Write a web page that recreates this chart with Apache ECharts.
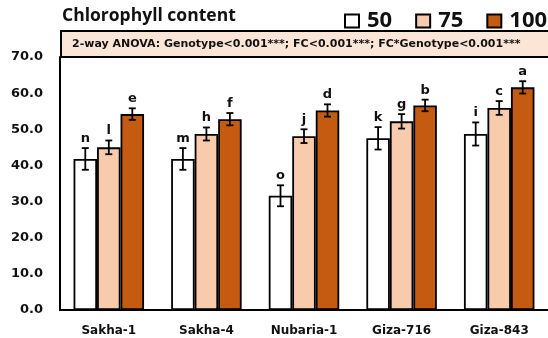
<!DOCTYPE html>
<html>
<head>
<meta charset="utf-8">
<style>
  html, body { margin: 0; padding: 0; background: #ffffff; }
  #chart { width: 548px; height: 338px; }
</style>
<script src="https://cdn.jsdelivr.net/npm/echarts@6/dist/echarts.min.js"></script>
</head>
<body>
<div id="chart"></div>
<script>
// Chlorophyll content of five genotypes under three FC levels (mean ± SE)
const genotypes = ['Sakha-1', 'Sakha-4', 'Nubaria-1', 'Giza-716', 'Giza-843'];
const levels = ['50', '75', '100'];

const mean50  = [41.8, 41.8, 31.6, 47.5, 48.7];
const mean75  = [45.0, 48.7, 48.1, 52.2, 55.9];
const mean100 = [54.2, 52.8, 55.2, 56.6, 61.6];

const err50  = [3.0, 3.0, 2.9, 3.1, 3.2];
const err75  = [1.9, 1.8, 1.9, 2.0, 1.9];
const err100 = [1.6, 1.7, 1.7, 1.6, 1.7];

const letters50  = ['n', 'm', 'o', 'k', 'i'];
const letters75  = ['l', 'h', 'j', 'g', 'c'];
const letters100 = ['e', 'f', 'd', 'b', 'a'];

const yTicks = { min: 0, max: 70, interval: 10 };

const titleText = 'Chlorophyll content';
const anovaText = '2-way ANOVA: Genotype<0.001***; FC<0.001***; FC*Genotype<0.001***';

// styling
const BAR_W = 23.5;
const fills = ['#ffffff', '#F8CBAD', '#C55A11'];
const INK = '#000000';
const TXT = '#111111';

const means = [mean50, mean75, mean100];
const errs = [err50, err75, err100];
const letterSets = [letters50, letters75, letters100];

const barSeries = levels.map((lv, i) => ({
  name: lv,
  type: 'bar',
  data: means[i],
  barWidth: BAR_W,
  barGap: '0%',
  itemStyle: { color: fills[i], borderColor: INK, borderWidth: 1.8 },
  z: 2
}));

const errSeries = levels.map((lv, i) => ({
  name: 'se-' + lv,
  type: 'custom',
  data: means[i].map((m, k) => [k, m, errs[i][k], letterSets[i][k]]),
  encode: { x: 0, y: 1 },
  z: 5,
  renderItem: (params, api) => {
    const k = api.value(0);
    const m = api.value(1);
    const e = api.value(2);
    const hi = api.coord([k, m + e]);
    const lo = api.coord([k, m - e]);
    const x = hi[0] + (i - 1) * BAR_W;
    const cap = 3.5;
    const line = { stroke: INK, lineWidth: 1.8 };
    return {
      type: 'group',
      children: [
        { type: 'line', shape: { x1: x, y1: hi[1], x2: x, y2: lo[1] }, style: line },
        { type: 'line', shape: { x1: x - cap, y1: hi[1], x2: x + cap, y2: hi[1] }, style: line },
        { type: 'line', shape: { x1: x - cap, y1: lo[1], x2: x + cap, y2: lo[1] }, style: line },
        {
          type: 'text',
          style: {
            x: x, y: hi[1] - 3,
            text: letterSets[i][k],
            align: 'center', verticalAlign: 'bottom',
            fill: TXT,
            font: 'bold 13px "DejaVu Sans"'
          }
        }
      ]
    };
  }
}));

const chart = echarts.init(document.getElementById('chart'), null, { renderer: 'canvas' });

chart.setOption({
  animation: false,
  backgroundColor: '#ffffff',
  grid: { left: 60, top: 57, width: 495, height: 253, containLabel: false },
  legend: {
    data: levels,
    orient: 'horizontal',
    left: 344,
    top: 10,
    width: 260,
    padding: 0,
    icon: 'rect',
    itemWidth: 14,
    itemHeight: 13,
    itemGap: 23,
    textStyle: {
      fontFamily: '"Open Sans"',
      fontWeight: 'bold',
      fontSize: 22,
      color: TXT,
      padding: [0, 0, 0, 3]
    }
  },
  xAxis: {
    type: 'category',
    data: genotypes,
    axisLine: { show: true, lineStyle: { color: INK, width: 2 } },
    axisTick: { show: false },
    axisLabel: {
      margin: 15,
      fontFamily: '"DejaVu Sans"',
      fontWeight: 'bold',
      fontSize: 12,
      color: TXT
    }
  },
  yAxis: {
    type: 'value',
    min: yTicks.min,
    max: yTicks.max,
    interval: yTicks.interval,
    splitLine: { show: false },
    axisLine: { show: true, lineStyle: { color: INK, width: 2 } },
    axisTick: { show: false },
    axisLabel: {
      margin: 17,
      formatter: v => v.toFixed(1),
      fontFamily: '"DejaVu Sans"',
      fontWeight: 'bold',
      fontSize: 13,
      color: TXT
    }
  },
  graphic: [
    {
      type: 'text',
      left: 62,
      top: 7,
      style: {
        text: titleText,
        fill: TXT,
        font: 'bold 17.5px "Open Sans"'
      }
    },
    {
      type: 'rect',
      shape: { x: 61, y: 31, width: 500, height: 26 },
      style: { fill: '#FBE5D6', stroke: INK, lineWidth: 2 },
      z: 10
    },
    {
      type: 'text',
      x: 72,
      y: 44,
      style: {
        text: anovaText,
        fill: TXT,
        verticalAlign: 'middle',
        font: 'bold 11px "DejaVu Sans"'
      },
      z: 11
    }
  ],
  series: [...barSeries, ...errSeries]
});
</script>
</body>
</html>
